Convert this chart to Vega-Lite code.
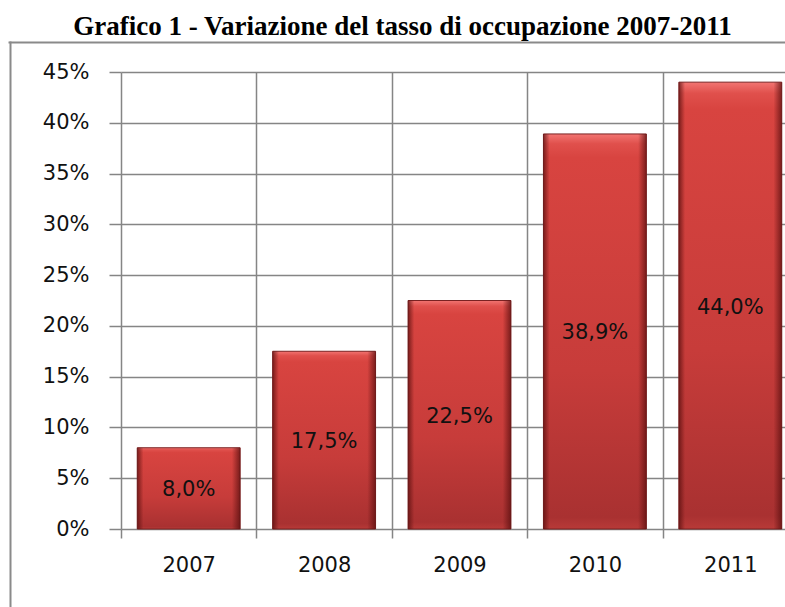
{
  "$schema": "https://vega.github.io/schema/vega-lite/v6.json",
  "autosize": {"type": "none"},
  "padding": {"left": 121, "top": 72, "right": 0, "bottom": 78},
  "width": 677,
  "height": 457,
  "background": "white",
  "title": {
    "text": "Grafico 1 - Variazione del tasso di occupazione 2007-2011",
    "font": "Liberation Serif",
    "fontSize": 27,
    "fontWeight": "bold",
    "color": "#000000",
    "anchor": "middle",
    "frame": "group",
    "baseline": "alphabetic",
    "offset": -20,
    "dx": -57
  },
  "data": {
    "values": [
      {"anno": "2007", "tasso": 0.080},
      {"anno": "2008", "tasso": 0.175},
      {"anno": "2009", "tasso": 0.225},
      {"anno": "2010", "tasso": 0.389},
      {"anno": "2011", "tasso": 0.440}
    ]
  },
  "layer": [
    {
      "layer": [
        {
          "mark": {
            "type": "bar",
            "width": {"band": 0.76},
            "stroke": "#7a2222",
            "strokeWidth": 1,
            "fill": {
              "gradient": "linear",
              "x1": 0, "y1": 0, "x2": 0, "y2": 1,
              "stops": [
                {"offset": 0, "color": "#f27572"},
                {"offset": 0.025, "color": "#e0504c"},
                {"offset": 0.06, "color": "#d84440"},
                {"offset": 0.6, "color": "#c73c3a"},
                {"offset": 0.97, "color": "#a93131"},
                {"offset": 1, "color": "#b83a38"}
              ]
            }
          }
        },
        {
          "mark": {
            "type": "bar",
            "width": {"band": 0.76},
            "fill": {
              "gradient": "linear",
              "x1": 0, "y1": 0, "x2": 1, "y2": 0,
              "stops": [
                {"offset": 0, "color": "rgba(90,15,15,0.75)"},
                {"offset": 0.06, "color": "rgba(90,15,15,0.0)"},
                {"offset": 0.92, "color": "rgba(90,15,15,0.0)"},
                {"offset": 1, "color": "rgba(90,15,15,0.75)"}
              ]
            }
          }
        },
        {
          "mark": {
            "type": "text",
            "font": "DejaVu Sans",
            "fontSize": 21,
            "color": "#111111",
            "baseline": "middle",
            "align": "center",
            "yOffset": {"expr": "datum.tasso * 507.78 + 2"}
          },
          "encoding": {
            "text": {"field": "tasso", "type": "quantitative", "format": ".1%"}
          }
        }
      ],
      "encoding": {
        "x": {
          "field": "anno",
          "type": "ordinal",
          "scale": {"paddingInner": 0, "paddingOuter": 0},
          "axis": {
            "title": null,
            "labelAngle": 0,
            "tickBand": "extent",
            "grid": true,
            "gridColor": "#858585",
            "gridWidth": 1.5,
            "domain": false,
            "ticks": true,
            "tickSize": 9,
            "tickColor": "#858585",
            "tickWidth": 1.5,
            "labelFont": "DejaVu Sans",
            "labelFontSize": 21,
            "labelColor": "#111111",
            "labelPadding": 16
          }
        },
        "y": {
          "field": "tasso",
          "type": "quantitative",
          "scale": {"domain": [0, 0.45], "nice": false},
          "axis": {
            "title": null,
            "values": [0, 0.05, 0.1, 0.15, 0.2, 0.25, 0.3, 0.35, 0.4, 0.45],
            "format": ".0%",
            "grid": true,
            "gridColor": "#858585",
            "gridWidth": 1.5,
            "domain": false,
            "tickSize": 12,
            "tickColor": "#858585",
            "tickWidth": 1.5,
            "labelFont": "DejaVu Sans",
            "labelFontSize": 21,
            "labelColor": "#111111",
            "labelPadding": 20
          }
        }
      }
    },
    {
      "mark": {"type": "point", "opacity": 0},
      "encoding": {
        "x": {
          "field": "tasso",
          "type": "quantitative",
          "scale": {"range": [-112, 700], "zero": true},
          "axis": {
            "orient": "top",
            "offset": 30,
            "title": null,
            "labels": false,
            "ticks": false,
            "grid": false,
            "domain": true,
            "domainColor": "#8a8a8a",
            "domainWidth": 2,
            "domainCap": "square"
          }
        },
        "y": {
          "field": "tasso",
          "type": "quantitative",
          "scale": {"range": [545, -30], "zero": true},
          "axis": {
            "orient": "left",
            "offset": 111,
            "title": null,
            "labels": false,
            "ticks": false,
            "grid": false,
            "domain": true,
            "domainColor": "#8a8a8a",
            "domainWidth": 2,
            "domainCap": "square"
          }
        }
      }
    }
  ],
  "resolve": {"scale": {"x": "independent", "y": "independent"}, "axis": {"x": "independent", "y": "independent"}},
  "config": {
    "locale": {
      "number": {"decimal": ",", "thousands": ".", "grouping": [3], "currency": ["€", ""]}
    },
    "view": {"stroke": null}
  }
}
